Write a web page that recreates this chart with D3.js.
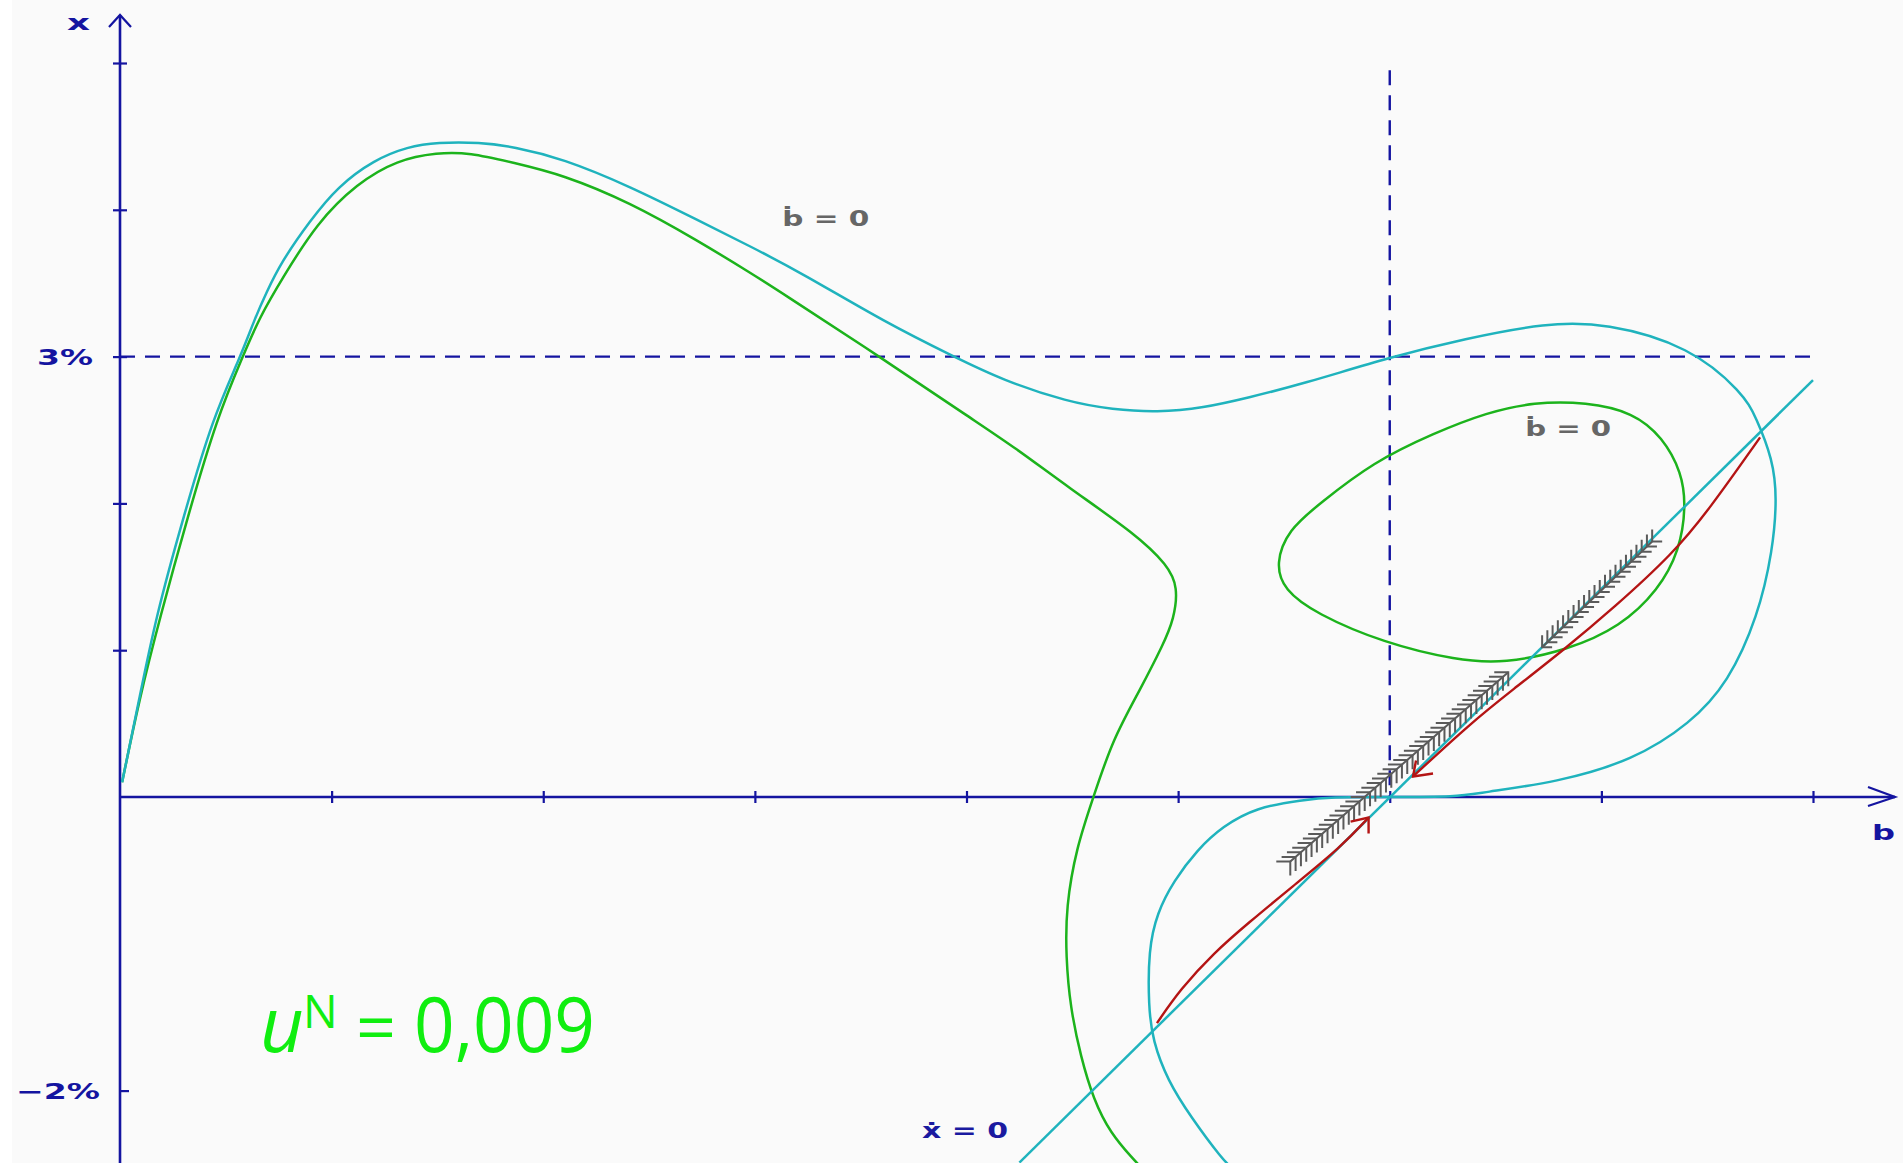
<!DOCTYPE html>
<html>
<head>
<meta charset="utf-8">
<script src="https://cdn.jsdelivr.net/npm/d3@7"></script>
<style>
  html, body { margin: 0; padding: 0; background: #fafafa; overflow: hidden; }
  text { font-family: "DejaVu Sans", sans-serif; font-weight: bold; }
</style>
</head>
<body>
<svg id="chart" width="1903" height="1163"></svg>
<script>
// Phase diagram (b, x), b in units, x in %
const bTicks = [1, 2, 3, 4, 5, 6, 7, 8];
const xTicks = [-2, 1, 2, 3, 4, 5];
const xTickLabels = ["−2%", "", "", "3%", "", ""];
const steady = [6, 3];          // b*, x* (dashed guide lines)
const guideTop = 4.95;

// cyan b-dot = 0 curve (upper hump, dip, loop, back down along axis)
const cyanCurve = [
  [0.01, 0.10], [0.09, 0.66], [0.17, 1.23], [0.30, 1.91], [0.44, 2.59], [0.57, 3.00],
  [0.64, 3.27], [0.69, 3.43], [0.76, 3.64], [0.90, 3.93], [1.03, 4.16], [1.20, 4.34],
  [1.36, 4.43], [1.50, 4.46], [1.70, 4.46], [1.86, 4.43], [2.09, 4.35], [2.41, 4.16],
  [2.73, 3.93], [2.98, 3.75], [3.22, 3.57], [3.62, 3.23], [3.94, 3.00], [4.17, 2.84],
  [4.48, 2.69], [4.69, 2.64], [4.90, 2.62], [5.12, 2.65], [5.33, 2.72], [5.58, 2.81],
  [6.01, 3.00], [6.35, 3.12], [6.74, 3.23], [7.02, 3.23], [7.42, 3.07], [7.67, 2.75],
  [7.73, 2.59], [7.81, 2.30], [7.83, 2.04], [7.81, 1.68], [7.74, 1.23], [7.60, 0.78],
  [7.42, 0.50], [7.15, 0.25], [6.79, 0.10], [6.43, 0.03], [6.32, 0.00], [6.00, 0.00],
  [5.72, 0.00], [5.59, -0.02], [5.37, -0.07], [5.21, -0.20], [5.09, -0.36], [4.98, -0.57],
  [4.90, -0.79], [4.86, -1.04], [4.86, -1.43], [4.88, -1.66], [4.95, -1.93], [5.06, -2.18],
  [5.21, -2.47], [5.25, -2.52]
];

// cyan x-dot = 0 line
const cyanLine = [[4.25, -2.49], [8.0, 2.84]];

// green b-dot = 0 curve (big one)
const greenCurve = [
  [0.01, 0.10], [0.09, 0.66], [0.19, 1.23], [0.32, 1.91], [0.46, 2.59], [0.58, 3.00],
  [0.66, 3.27], [0.77, 3.54], [0.93, 3.91], [1.12, 4.18], [1.31, 4.34], [1.50, 4.39],
  [1.65, 4.39], [1.86, 4.32], [2.09, 4.24], [2.41, 4.05], [2.73, 3.79], [2.98, 3.57],
  [3.11, 3.45], [3.60, 2.99], [4.02, 2.58], [4.23, 2.38], [4.48, 2.11], [4.80, 1.79],
  [4.95, 1.58], [5.00, 1.43], [4.98, 1.21], [4.93, 1.04], [4.82, 0.73], [4.69, 0.39],
  [4.60, 0.00], [4.52, -0.34], [4.47, -0.75], [4.47, -1.09], [4.49, -1.43], [4.54, -1.77],
  [4.60, -2.06], [4.68, -2.29], [4.79, -2.47], [4.83, -2.53]
];

// green closed loop
const greenLoop = [
  [5.46, 1.59], [5.52, 1.82], [5.67, 2.00], [5.92, 2.28], [6.21, 2.48], [6.46, 2.62],
  [6.68, 2.69], [6.93, 2.69], [7.15, 2.62], [7.29, 2.45], [7.38, 2.21], [7.40, 1.98],
  [7.37, 1.68], [7.27, 1.41], [7.09, 1.16], [6.84, 1.00], [6.54, 0.91], [6.32, 0.93],
  [5.97, 1.05], [5.65, 1.25], [5.50, 1.41]
];

// red saddle paths (towards steady state)
const redUpper = [[7.75, 2.45], [7.51, 1.96], [7.34, 1.66], [7.06, 1.29], [6.82, 1.00],
                  [6.58, 0.73], [6.38, 0.50], [6.11, 0.14]];
const redLower = [[4.90, -1.54], [5.01, -1.31], [5.17, -1.06], [5.33, -0.86], [5.54, -0.61],
                  [5.77, -0.34], [5.90, -0.14]];

// gray arrow bundles
const grayLow = [[5.53, -0.44], [6.56, 0.85]];
const grayHigh = [[6.72, 1.02], [7.24, 1.74]];

// labels
const labels = [
  {t: "ḃ = 0", b: 3.13, v: 3.89, w: 87, c: "#666666"},
  {t: "ḃ = 0", b: 6.64, v: 2.46, w: 86, c: "#666666"},
  {t: "ẋ = 0", b: 3.79, v: -2.32, w: 86, c: "#1a1aa0"}
];

const blue = "#1414a0", cyan = "#1fb3bd", green = "#1cb31c", red = "#b41414", gray = "#5a5a5a";

const svg = d3.select("#chart");
svg.append("rect").attr("width", 1903).attr("height", 1163).attr("fill", "#fafafa");
svg.append("rect").attr("width", 12).attr("height", 1163).attr("fill", "#ffffff");

const x = d3.scaleLinear().domain([0, 8]).range([120, 1813]);
const y = d3.scaleLinear().domain([-2, 5]).range([1090.6, 63]);

// axes
const gx = svg.append("g").attr("transform", "translate(0," + y(0) + ")")
  .call(d3.axisBottom(x).tickValues(bTicks).tickFormat("").tickSizeOuter(0));
gx.select(".domain").remove();
gx.selectAll(".tick line").attr("y1", -6).attr("y2", 6).attr("stroke", blue).attr("stroke-width", 2.2);

const gy = svg.append("g").attr("transform", "translate(" + x(0) + ",0)")
  .call(d3.axisLeft(y).tickValues(xTicks).tickFormat((d, i) => xTickLabels[i]).tickSizeOuter(0));
gy.select(".domain").remove();
gy.selectAll(".tick line")
  .attr("x1", d => d < 0 ? 0 : -7).attr("x2", d => d < 0 ? 9 : 7)
  .attr("stroke", blue).attr("stroke-width", 2.2);
gy.selectAll(".tick text")
  .attr("x", d => d < 0 ? -20 : -27).attr("dy", "0.36em")
  .attr("fill", blue).style("font-size", "22px")
  .attr("textLength", d => d < 0 ? 84 : 56).attr("lengthAdjust", "spacingAndGlyphs");

svg.append("line").attr("x1", 120).attr("x2", 1895).attr("y1", y(0)).attr("y2", y(0))
  .attr("stroke", blue).attr("stroke-width", 2.4);
svg.append("line").attr("x1", 120).attr("x2", 120).attr("y1", 1163).attr("y2", 15)
  .attr("stroke", blue).attr("stroke-width", 2.6);
svg.append("path").attr("d", "M1868,787 L1895,797 L1868,806")
  .attr("fill", "none").attr("stroke", blue).attr("stroke-width", 2.2);
svg.append("path").attr("d", "M109,27 L120,15 L131,27")
  .attr("fill", "none").attr("stroke", blue).attr("stroke-width", 2.2);

svg.append("text").attr("x", 67).attr("y", 30).text("x").attr("fill", blue)
  .style("font-size", "22px").attr("textLength", 23).attr("lengthAdjust", "spacingAndGlyphs");
svg.append("text").attr("x", 1872).attr("y", 840).text("b").attr("fill", blue)
  .style("font-size", "22px").attr("textLength", 23).attr("lengthAdjust", "spacingAndGlyphs");

// dashed guides
svg.append("line").attr("x1", x(0)).attr("x2", x(8)).attr("y1", y(steady[1])).attr("y2", y(steady[1]))
  .attr("stroke", blue).attr("stroke-width", 2.4).attr("stroke-dasharray", "15,10");
svg.append("line").attr("x1", x(steady[0])).attr("x2", x(steady[0])).attr("y1", y(guideTop)).attr("y2", y(0))
  .attr("stroke", blue).attr("stroke-width", 2.4).attr("stroke-dasharray", "15,10");

const line = d3.line().x(d => x(d[0])).y(d => y(d[1])).curve(d3.curveBasis);
const loop = d3.line().x(d => x(d[0])).y(d => y(d[1])).curve(d3.curveBasisClosed);
const straight = d3.line().x(d => x(d[0])).y(d => y(d[1]));

svg.append("path").attr("d", line(greenCurve)).attr("fill", "none").attr("stroke", green).attr("stroke-width", 2.5);
svg.append("path").attr("d", loop(greenLoop)).attr("fill", "none").attr("stroke", green).attr("stroke-width", 2.5);
svg.append("path").attr("d", line(cyanCurve)).attr("fill", "none").attr("stroke", cyan).attr("stroke-width", 2.5);
svg.append("path").attr("d", straight(cyanLine)).attr("fill", "none").attr("stroke", cyan).attr("stroke-width", 2.5);

// gray arrow bundles
function bundle(pts, dir) {
  const p0 = [x(pts[0][0]), y(pts[0][1])], p1 = [x(pts[1][0]), y(pts[1][1])];
  const len = Math.hypot(p1[0] - p0[0], p1[1] - p0[1]);
  const n = Math.floor(len / 7);
  const g = svg.append("g").attr("stroke", gray).attr("stroke-width", 2).attr("fill", "none");
  g.append("line").attr("x1", p0[0]).attr("y1", p0[1]).attr("x2", p1[0]).attr("y2", p1[1]);
  d3.range(n + 1).forEach(i => {
    const t = i / n;
    const px = p0[0] + (p1[0] - p0[0]) * t, py = p0[1] + (p1[1] - p0[1]) * t;
    const d = dir > 0
      ? "M" + (px - 14) + "," + py + " L" + px + "," + py + " L" + px + "," + (py + 14)
      : "M" + px + "," + (py - 12) + " L" + px + "," + py + " L" + (px + 10) + "," + py;
    g.append("path").attr("d", d);
  });
}
bundle(grayLow, 1);
bundle(grayHigh, -1);

// red paths with arrow heads
svg.append("path").attr("d", line(redUpper)).attr("fill", "none").attr("stroke", red).attr("stroke-width", 2.4);
svg.append("path").attr("d", line(redLower)).attr("fill", "none").attr("stroke", red).attr("stroke-width", 2.4);
const tU = redUpper[redUpper.length - 1], tL = redLower[redLower.length - 1];
svg.append("path")
  .attr("d", "M" + (x(tU[0]) + 3) + "," + (y(tU[1]) - 16) + " L" + x(tU[0]) + "," + y(tU[1]) + " L" + (x(tU[0]) + 20) + "," + (y(tU[1]) - 3))
  .attr("fill", "none").attr("stroke", red).attr("stroke-width", 2.4);
svg.append("path")
  .attr("d", "M" + (x(tL[0]) - 18) + "," + (y(tL[1]) + 4) + " L" + x(tL[0]) + "," + y(tL[1]) + " L" + x(tL[0]) + "," + (y(tL[1]) + 16))
  .attr("fill", "none").attr("stroke", red).attr("stroke-width", 2.4);

// curve labels
labels.forEach(l => {
  svg.append("text").attr("x", x(l.b)).attr("y", y(l.v)).text(l.t).attr("fill", l.c)
    .style("font-size", "21px").attr("textLength", l.w).attr("lengthAdjust", "spacingAndGlyphs");
});

// parameter caption
const capFont = "'Open Sans', sans-serif";
const cap = svg.append("g").attr("fill", "#10ee10");
cap.append("text").attr("x", 260).attr("y", 1052).text("u").style("font-style", "italic")
  .style("font-size", "76px").style("font-weight", "normal").style("font-family", capFont);
cap.append("text").attr("x", 303).attr("y", 1028).text("N")
  .style("font-size", "46px").style("font-weight", "normal").style("font-family", capFont);
cap.append("text").attr("x", 356).attr("y", 1052).text("=")
  .style("font-size", "70px").style("font-weight", "normal").style("font-family", capFont);
cap.append("text").attr("x", 414).attr("y", 1052).text("0,009")
  .style("font-size", "76px").style("font-weight", "normal").style("font-family", capFont)
  .attr("textLength", 181).attr("lengthAdjust", "spacingAndGlyphs");
</script>
</body>
</html>
